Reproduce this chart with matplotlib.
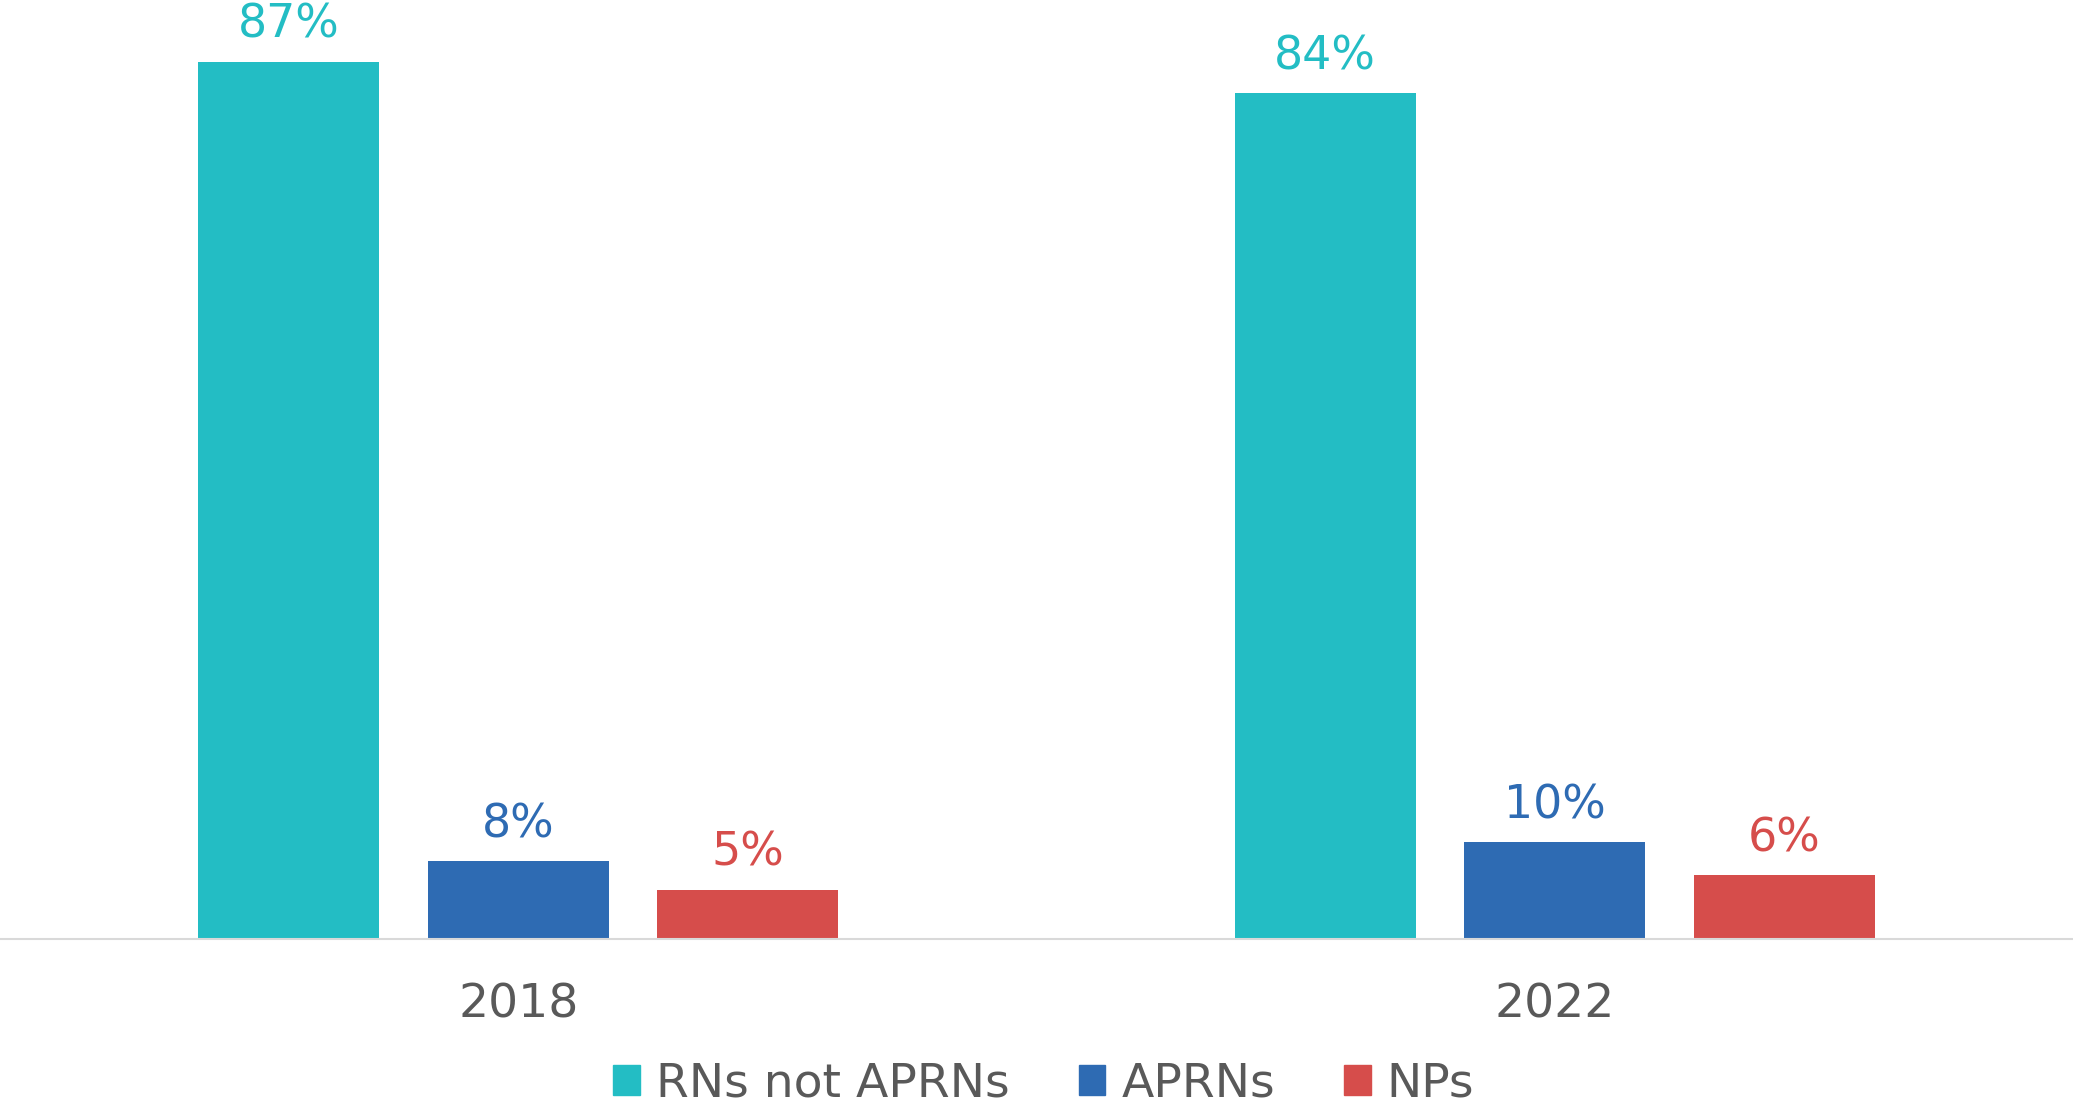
import matplotlib
import matplotlib.pyplot as plt
from matplotlib.patches import Patch
import numpy as np

matplotlib.rcParams['font.family'] = ['DejaVu Sans']

# values
years = ['2018', '2022']
series = ['RNs not APRNs', 'APRNs', 'NPs']
rn_vals = [87.0, 83.9]
aprn_vals = [7.7, 9.6]
np_vals = [4.9, 6.3]
colors = ['#23BDC4', '#2E6BB3', '#D64D4B']

grey = '#595959'

fig = plt.figure(figsize=(20.73, 11.05), dpi=100)
ax = fig.add_axes([0, 0.1502, 1, 0.8498])

x = np.arange(len(years))
width = 0.175
step = 0.2214

for i, (vals, col) in enumerate(zip([rn_vals, aprn_vals, np_vals], colors)):
    pos = x + (i - 1) * step
    bars = ax.bar(pos, vals, width, color=col, label=series[i])
    for b, v in zip(bars, vals):
        ax.annotate('%.0f%%' % v, (b.get_x() + b.get_width() / 2, v),
                    xytext=(0, 17), textcoords='offset points',
                    ha='center', va='baseline', fontsize=33, color=col)

ax.set_xlim(-0.5, 1.5)
ax.set_ylim(0, 93.1)
ax.set_xticks(x)
ax.set_xticklabels(years, fontsize=34, color=grey)
ax.tick_params(axis='x', length=0, pad=31)
ax.set_yticks([])
for s in ['top', 'right', 'left']:
    ax.spines[s].set_visible(False)
ax.spines['bottom'].set_color('#D9D9D9')
ax.spines['bottom'].set_linewidth(1.5)

handles = [Patch(color=c) for c in colors]
leg = fig.legend(handles, series, loc='lower center', bbox_to_anchor=(0.5035, -0.04),
                 ncol=3, frameon=False, fontsize=34, handlelength=0.57,
                 handleheight=0.57, handletextpad=0.34, columnspacing=1.45)
for t in leg.get_texts():
    t.set_color(grey)

fig.savefig('out.png', dpi=100)
